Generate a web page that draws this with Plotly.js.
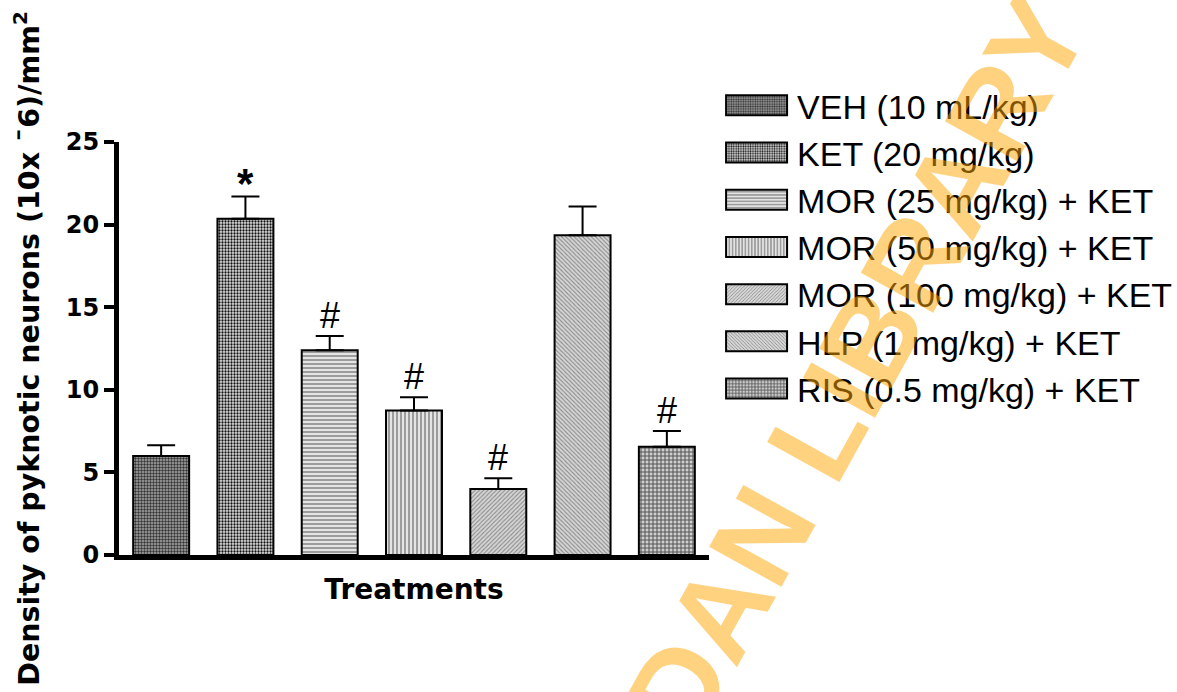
<!DOCTYPE html>
<html><head><meta charset="utf-8">
<script src="https://cdn.plot.ly/plotly-3.0.1.min.js"></script>
<style>html,body{margin:0;padding:0;background:#fff;}#chart{width:1177px;height:692px;}</style>
</head><body><div id="chart"></div>
<script>
const categories = ['VEH (10 mL/kg)', 'KET (20 mg/kg)', 'MOR (25 mg/kg) + KET', 'MOR (50 mg/kg) + KET', 'MOR (100 mg/kg) + KET', 'HLP (1 mg/kg) + KET', 'RIS (0.5 mg/kg) + KET'];
const means = [6.0, 20.35, 12.4, 8.75, 4.0, 19.35, 6.55];
const sem = [0.65, 1.35, 0.85, 0.8, 0.65, 1.75, 0.95];
const significance = ['', '*', '#', '#', '#', '', '#'];
const yTicks = [0, 5, 10, 15, 20, 25];
const yTitle = 'Density of pyknotic neurons (10x \u00AF6)/mm<sup>2</sup>';
const xTitle = 'Treatments';
const watermark = 'UNIVERSITY OF IBADAN LIBRARY';

const patternShapes = ['.', '.', '-', '|', '/', '\\', '+'];
const patternFg = ['#333333', '#111111', '#8a8a8a', '#8a8a8a', '#8a8a8a', '#8a8a8a', '#555555'];
const patternBg = ['#a8a8a8', '#e0e0e0', '#e4e4e4', '#e4e4e4', '#d6d6d6', '#d6d6d6', '#cfcfcf'];
const patternSize = [3, 3, 4, 4, 3, 3, 4];
const patternSolid = [0.5, 0.45, 0.4, 0.4, 0.35, 0.35, 0.45];

const traces = categories.map((c, i) => ({
  type: 'bar',
  name: c,
  x: [c],
  y: [means[i]],
  marker: {
    color: patternBg[i],
    line: {color: '#000', width: 2},
    pattern: {shape: patternShapes[i], size: patternSize[i], solidity: patternSolid[i], fgcolor: patternFg[i], bgcolor: patternBg[i], fillmode: 'replace'}
  },
  error_y: {type: 'data', array: [sem[i]], arrayminus: [0], symmetric: false, color: '#000', thickness: 2, width: 14},
  hoverinfo: 'skip'
}));

const annotations = [];
significance.forEach((s, i) => {
  if (!s) return;
  annotations.push({
    x: categories[i], y: means[i] + sem[i], xref: 'x', yref: 'y',
    text: s, showarrow: false, yanchor: 'bottom', yshift: s === '*' ? -12 : -2,
    font: {family: 'Liberation Sans, Arial, sans-serif', size: s === '*' ? 42 : 36, color: '#000', weight: s === '*' ? 700 : 400}
  });
});
annotations.push({
  x: 0.773, y: -0.767, xref: 'paper', yref: 'paper', text: watermark, showarrow: false,
  textangle: -61, xanchor: 'center', yanchor: 'middle',
  font: {family: 'Liberation Sans, Arial, sans-serif', size: 120, weight: 700, color: 'rgba(255,165,0,0.5)'}
});

const layout = {
  width: 1177, height: 692,
  paper_bgcolor: '#fff', plot_bgcolor: '#fff',
  margin: {l: 119, r: 468, t: 142, b: 137, autoexpand: false},
  barmode: 'overlay', bargap: 0.336,
  showlegend: true,
  legend: {x: 1.012, y: 1.158, xanchor: 'left', yanchor: 'top', itemwidth: 71, traceorder: 'normal',
           font: {family: 'Liberation Sans, Arial, sans-serif', size: 34, color: '#000'}, bgcolor: 'rgba(0,0,0,0)'},
  xaxis: {type: 'category', categoryorder: 'array', categoryarray: categories, range: [-0.5, 6.5],
          showticklabels: false, ticks: '', showgrid: false, zeroline: false,
          showline: true, linewidth: 5, linecolor: '#000',
          title: {text: xTitle, standoff: 22, font: {family: 'DejaVu Sans, sans-serif', size: 28, color: '#000', weight: 700}}},
  yaxis: {range: [0, 25], tickvals: yTicks, ticktext: yTicks.map(String), ticks: 'outside', ticklen: 10, tickwidth: 4, tickcolor: '#000',
          showgrid: false, zeroline: false, showline: true, linewidth: 5, linecolor: '#000',
          tickfont: {family: 'DejaVu Sans, sans-serif', size: 24, color: '#000', weight: 700},
          title: {text: yTitle, standoff: 19, font: {family: 'DejaVu Sans, sans-serif', size: 28.5, color: '#000', weight: 700}}},
  annotations: annotations
};

Plotly.newPlot('chart', traces, layout, {displayModeBar: false, staticPlot: true}).then(() => {
  document.querySelectorAll('.legendpoints path').forEach(p => p.setAttribute('d', 'M30.5,10H-30.5V-10H30.5Z'));
});
</script>
</body></html>
